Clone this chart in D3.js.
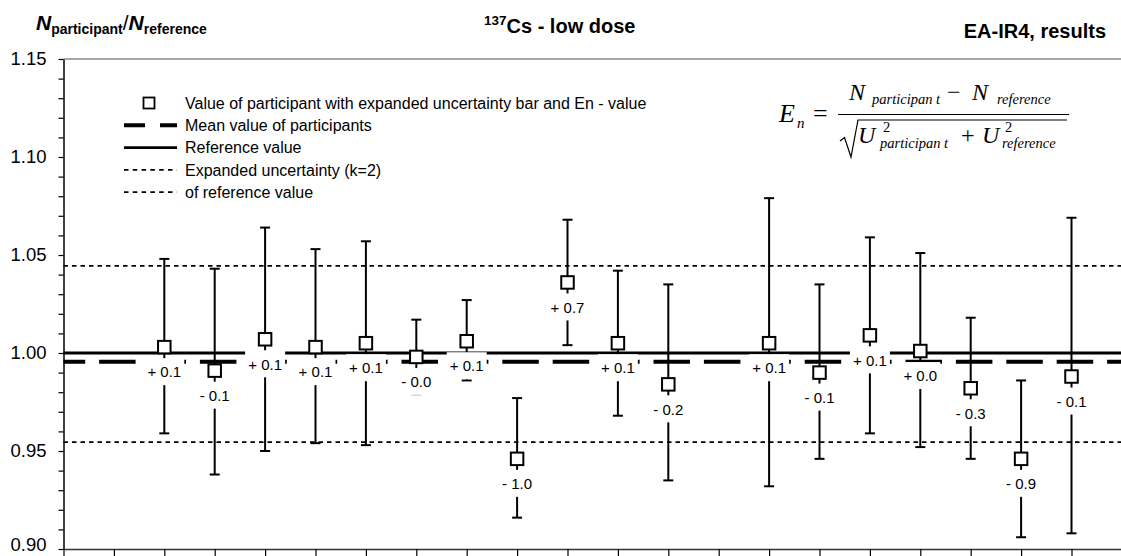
<!DOCTYPE html>
<html>
<head>
<meta charset="utf-8">
<script src="https://cdn.jsdelivr.net/npm/d3@7"></script>
<style>
  body { margin: 0; background: #fff; }
  svg { display: block; }
</style>
</head>
<body>
<div id="chart"></div>
<script>
// participant positions along the x axis (slot 13 is empty)
const positions = [2, 3, 4, 5, 6, 7, 8, 9, 10, 11, 12, 14, 15, 16, 17, 18, 19, 20];
// N_participant / N_reference
const values = [1.003, 0.991, 1.007, 1.003, 1.005, 0.998, 1.006, 0.946, 1.036, 1.005, 0.984,
                1.005, 0.990, 1.009, 1.001, 0.982, 0.946, 0.988];
// expanded uncertainty bar ends
const upper = [1.048, 1.043, 1.064, 1.053, 1.057, 1.017, 1.027, 0.977, 1.068, 1.042, 1.035,
               1.079, 1.035, 1.059, 1.051, 1.018, 0.986, 1.069];
const lower = [0.959, 0.938, 0.950, 0.954, 0.953, 0.979, 0.986, 0.916, 1.004, 0.968, 0.935,
               0.932, 0.946, 0.959, 0.952, 0.946, 0.906, 0.908];
// En values
const enLabels = ["+ 0.1", "- 0.1", "+ 0.1", "+ 0.1", "+ 0.1", "- 0.0", "+ 0.1", "- 1.0", "+ 0.7",
                  "+ 0.1", "- 0.2", "+ 0.1", "- 0.1", "+ 0.1", "+ 0.0", "- 0.3", "- 0.9", "- 0.1"];

const refValue = 1.000;
const meanValue = 0.9955;
const refUpper = 1.0445;
const refLower = 0.9545;

const yTicks = d3.range(90, 116).map(d => d / 100);
const yLabelTicks = [0.90, 0.95, 1.00, 1.05, 1.10, 1.15];
const xTicks = d3.range(0, 22);

const legendLabels = [
  "Value of participant with expanded uncertainty bar and En - value",
  "Mean value of participants",
  "Reference value",
  "Expanded uncertainty (k=2)",
  "of reference value"
];

const width = 1121, height = 556;
const sans = "'Liberation Sans', Arial, sans-serif";
const serif = "'Liberation Serif', 'Times New Roman', serif";

const svg = d3.select("#chart").append("svg")
  .attr("width", width)
  .attr("height", height);

const x = d3.scaleLinear().domain([0, 21]).range([63.5, 1121.9]);
const y = d3.scaleLinear().domain([0.90, 1.15]).range([549, 59]);

// top border of the plot area
svg.append("line")
  .attr("x1", x(0)).attr("x2", width)
  .attr("y1", y(1.15)).attr("y2", y(1.15))
  .attr("stroke", "#8a8a8a").attr("stroke-width", 1.5);

// x axis (ticks only)
const xAxis = svg.append("g")
  .attr("transform", "translate(0," + y(0.90) + ")")
  .call(d3.axisBottom(x).tickValues(xTicks).tickSize(7).tickSizeOuter(0).tickFormat(""));
xAxis.select(".domain").attr("stroke", "#333").attr("stroke-width", 1.5);
xAxis.selectAll(".tick line").attr("stroke", "#000").attr("stroke-width", 1.2);

// y axis
const yAxis = svg.append("g")
  .attr("transform", "translate(" + x(0) + ",0)")
  .call(d3.axisLeft(y).tickValues(yTicks).tickSize(5).tickSizeOuter(0).tickPadding(12)
    .tickFormat(d => yLabelTicks.some(t => Math.abs(t - d) < 1e-9) ? d3.format(".2f")(d) : ""));
yAxis.select(".domain").attr("stroke", "#000").attr("stroke-width", 1.5);
yAxis.selectAll(".tick line").attr("stroke", "#000").attr("stroke-width", 1.2);
yAxis.selectAll("text").attr("font-family", sans).attr("font-size", 18.5).attr("fill", "#000")
  .attr("dy", d => d < 0.905 ? "0.1em" : "0.3em");

// reference uncertainty lines
[refUpper, refLower].forEach(v => {
  svg.append("line")
    .attr("x1", x(0)).attr("x2", width)
    .attr("y1", y(v)).attr("y2", y(v))
    .attr("stroke", "#000").attr("stroke-width", 1.8)
    .attr("stroke-dasharray", "4.5,4");
});

// reference value
svg.append("line")
  .attr("x1", x(0)).attr("x2", width)
  .attr("y1", y(refValue)).attr("y2", y(refValue))
  .attr("stroke", "#000").attr("stroke-width", 2.8);

// mean of participants
svg.append("line")
  .attr("x1", x(0)).attr("x2", width)
  .attr("y1", y(meanValue)).attr("y2", y(meanValue))
  .attr("stroke", "#000").attr("stroke-width", 4)
  .attr("stroke-dasharray", "36.5,13.9")
  .attr("stroke-dashoffset", 14.8);

const pts = positions.map((p, i) => ({ p, v: values[i], hi: upper[i], lo: lower[i], en: enLabels[i] }));

// error bars
const bars = svg.append("g").selectAll("g").data(pts).enter().append("g");
bars.append("line")
  .attr("x1", d => x(d.p)).attr("x2", d => x(d.p))
  .attr("y1", d => y(d.hi)).attr("y2", d => y(d.lo))
  .attr("stroke", "#000").attr("stroke-width", 2);
bars.append("line")
  .attr("x1", d => x(d.p) - 5).attr("x2", d => x(d.p) + 5)
  .attr("y1", d => y(d.hi)).attr("y2", d => y(d.hi))
  .attr("stroke", "#000").attr("stroke-width", 2);
bars.append("line")
  .attr("x1", d => x(d.p) - 5).attr("x2", d => x(d.p) + 5)
  .attr("y1", d => y(d.lo)).attr("y2", d => y(d.lo))
  .attr("stroke", "#000").attr("stroke-width", 2);

// En label boxes
const labelOffset = 25;
svg.append("g").selectAll("rect").data(pts).enter().append("rect")
  .attr("x", d => x(d.p) - 20)
  .attr("y", d => y(d.v) + labelOffset - 14)
  .attr("width", 40)
  .attr("height", 27)
  .attr("fill", "#fff");

// markers
const ms = 12.5;
svg.append("g").selectAll("rect").data(pts).enter().append("rect")
  .attr("x", d => x(d.p) - ms / 2)
  .attr("y", d => y(d.v) - ms / 2)
  .attr("width", ms).attr("height", ms)
  .attr("fill", "#fff").attr("stroke", "#000").attr("stroke-width", 2);

// En labels
svg.append("g").selectAll("text").data(pts).enter().append("text")
  .attr("x", d => x(d.p))
  .attr("y", d => y(d.v) + labelOffset)
  .attr("dy", "0.35em")
  .attr("text-anchor", "middle")
  .attr("font-family", sans).attr("font-size", 15)
  .text(d => d.en);

// legend
const legend = svg.append("g");
const lx0 = 124, lx1 = 177, ltx = 185, ly0 = 103, lstep = 22.3;
legend.append("rect")
  .attr("x", 149 - 5.5).attr("y", ly0 - 5.5).attr("width", 11).attr("height", 11)
  .attr("fill", "#fff").attr("stroke", "#000").attr("stroke-width", 1.8);
legend.append("line")
  .attr("x1", lx0).attr("x2", lx1).attr("y1", ly0 + lstep).attr("y2", ly0 + lstep)
  .attr("stroke", "#000").attr("stroke-width", 4).attr("stroke-dasharray", "21,15");
legend.append("line")
  .attr("x1", lx0).attr("x2", lx1).attr("y1", ly0 + 2 * lstep).attr("y2", ly0 + 2 * lstep)
  .attr("stroke", "#000").attr("stroke-width", 2.8);
[3, 4].forEach(k => {
  legend.append("line")
    .attr("x1", lx0).attr("x2", lx1).attr("y1", ly0 + k * lstep).attr("y2", ly0 + k * lstep)
    .attr("stroke", "#000").attr("stroke-width", 1.8).attr("stroke-dasharray", "4.5,4.3");
});
legend.selectAll("text").data(legendLabels).enter().append("text")
  .attr("x", ltx)
  .attr("y", (d, i) => ly0 + i * lstep)
  .attr("dy", "0.35em")
  .attr("font-family", sans).attr("font-size", 16)
  .text(d => d);

// titles
const t1 = svg.append("text").attr("x", 36).attr("y", 30)
  .attr("font-family", sans).attr("font-weight", "bold").attr("font-size", 21);
t1.append("tspan").attr("font-style", "italic").text("N");
t1.append("tspan").attr("font-size", 14).attr("dy", 4).text("participant");
t1.append("tspan").attr("dy", -4).attr("font-weight", "normal").text("/");
t1.append("tspan").attr("font-style", "italic").text("N");
t1.append("tspan").attr("font-size", 14).attr("dy", 4).text("reference");

const t2 = svg.append("text").attr("x", 484).attr("y", 33)
  .attr("font-family", sans).attr("font-weight", "bold").attr("font-size", 20);
t2.append("tspan").attr("font-size", 13.5).attr("dy", -8).text("137");
t2.append("tspan").attr("dy", 8).text("Cs - low dose");

svg.append("text").attr("x", 1106).attr("y", 38)
  .attr("text-anchor", "end")
  .attr("font-family", sans).attr("font-weight", "bold").attr("font-size", 20)
  .text("EA-IR4, results");

// En formula
const f = svg.append("g").attr("font-family", serif).attr("font-style", "italic");
f.append("text").attr("x", 779).attr("y", 122).attr("font-size", 26).text("E");
f.append("text").attr("x", 797).attr("y", 128).attr("font-size", 15).text("n");
f.append("text").attr("x", 813).attr("y", 122).attr("font-size", 26).attr("font-style", "normal").text("=");
f.append("line").attr("x1", 838).attr("x2", 1069).attr("y1", 114.5).attr("y2", 114.5)
  .attr("stroke", "#000").attr("stroke-width", 1.2);
f.append("text").attr("x", 849).attr("y", 100).attr("font-size", 24).text("N");
f.append("text").attr("x", 872).attr("y", 104).attr("font-size", 14.5).text("participan t");
f.append("text").attr("x", 947).attr("y", 100).attr("font-size", 24).attr("font-style", "normal").text("\u2212");
f.append("text").attr("x", 972).attr("y", 100).attr("font-size", 24).text("N");
f.append("text").attr("x", 997).attr("y", 104).attr("font-size", 14.5).text("reference");
f.append("path")
  .attr("d", "M840,141 L844.5,137.5 L851,157 L858,120 L1067,120")
  .attr("fill", "none").attr("stroke", "#000").attr("stroke-width", 1.2);
f.append("text").attr("x", 858).attr("y", 143).attr("font-size", 24).text("U");
f.append("text").attr("x", 883).attr("y", 132).attr("font-size", 14.5).attr("font-style", "normal").text("2");
f.append("text").attr("x", 880).attr("y", 148).attr("font-size", 14.5).text("participan t");
f.append("text").attr("x", 961).attr("y", 143).attr("font-size", 24).attr("font-style", "normal").text("+");
f.append("text").attr("x", 982).attr("y", 143).attr("font-size", 24).text("U");
f.append("text").attr("x", 1005).attr("y", 132).attr("font-size", 14.5).attr("font-style", "normal").text("2");
f.append("text").attr("x", 1002).attr("y", 148).attr("font-size", 14.5).text("reference");
</script>
</body>
</html>
